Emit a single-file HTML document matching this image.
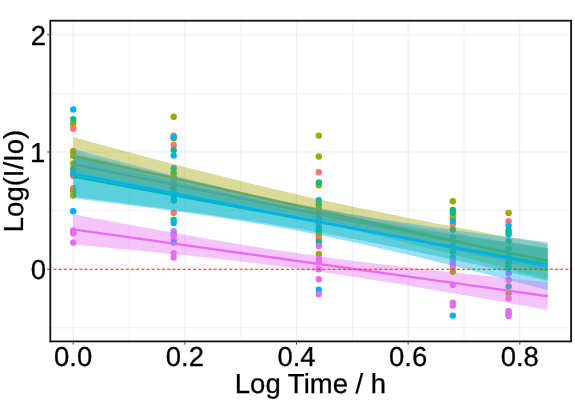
<!DOCTYPE html>
<html><head><meta charset="utf-8"><title>Chart</title>
<style>html,body{margin:0;padding:0;background:#fff;}svg{display:block;}text{text-rendering:geometricPrecision;}</style></head>
<body>
<svg width="575" height="402" viewBox="0 0 575 402">
<rect width="575" height="402" fill="#fff"/>
<g><line x1="73.20" y1="20.7" x2="73.20" y2="341.4" stroke="#EBEBEB" stroke-width="0.9"/><line x1="129.03" y1="20.7" x2="129.03" y2="341.4" stroke="#EBEBEB" stroke-width="0.7"/><line x1="184.85" y1="20.7" x2="184.85" y2="341.4" stroke="#EBEBEB" stroke-width="0.9"/><line x1="240.68" y1="20.7" x2="240.68" y2="341.4" stroke="#EBEBEB" stroke-width="0.7"/><line x1="296.50" y1="20.7" x2="296.50" y2="341.4" stroke="#EBEBEB" stroke-width="0.9"/><line x1="352.32" y1="20.7" x2="352.32" y2="341.4" stroke="#EBEBEB" stroke-width="0.7"/><line x1="408.15" y1="20.7" x2="408.15" y2="341.4" stroke="#EBEBEB" stroke-width="0.9"/><line x1="463.97" y1="20.7" x2="463.97" y2="341.4" stroke="#EBEBEB" stroke-width="0.7"/><line x1="519.80" y1="20.7" x2="519.80" y2="341.4" stroke="#EBEBEB" stroke-width="0.9"/><line x1="50.3" y1="327.80" x2="571.1" y2="327.80" stroke="#EBEBEB" stroke-width="0.7"/><line x1="50.3" y1="269.20" x2="571.1" y2="269.20" stroke="#EBEBEB" stroke-width="0.9"/><line x1="50.3" y1="210.60" x2="571.1" y2="210.60" stroke="#EBEBEB" stroke-width="0.7"/><line x1="50.3" y1="152.00" x2="571.1" y2="152.00" stroke="#EBEBEB" stroke-width="0.9"/><line x1="50.3" y1="93.40" x2="571.1" y2="93.40" stroke="#EBEBEB" stroke-width="0.7"/><line x1="50.3" y1="34.80" x2="571.1" y2="34.80" stroke="#EBEBEB" stroke-width="0.9"/></g>
<clipPath id="c"><rect x="50.3" y="20.7" width="520.8000000000001" height="320.7"/></clipPath>
<g clip-path="url(#c)">
<circle cx="73.2" cy="123.5" r="3.2" fill="#A3A500"/>
<circle cx="73.2" cy="119.1" r="3.2" fill="#00BF7D"/>
<circle cx="73.2" cy="128.7" r="3.2" fill="#F8766D"/>
<circle cx="73.2" cy="109.4" r="3.2" fill="#00B0F6"/>
<circle cx="73.2" cy="151.0" r="3.2" fill="#F8766D"/>
<circle cx="73.2" cy="152.1" r="3.2" fill="#A3A500"/>
<circle cx="73.2" cy="156.1" r="3.2" fill="#A3A500"/>
<circle cx="73.2" cy="163.4" r="3.2" fill="#A3A500"/>
<circle cx="73.2" cy="169.0" r="3.2" fill="#00BF7D"/>
<circle cx="73.2" cy="175.8" r="3.2" fill="#F8766D"/>
<circle cx="73.2" cy="173.4" r="3.2" fill="#00B0F6"/>
<circle cx="73.2" cy="188.3" r="3.2" fill="#F8766D"/>
<circle cx="73.2" cy="191.3" r="3.2" fill="#A3A500"/>
<circle cx="73.2" cy="195.6" r="3.2" fill="#A3A500"/>
<circle cx="73.2" cy="211.3" r="3.2" fill="#00B0F6"/>
<circle cx="73.2" cy="232.0" r="3.2" fill="#00B0F6"/>
<circle cx="73.2" cy="230.5" r="3.2" fill="#E76BF3"/>
<circle cx="73.2" cy="233.2" r="3.2" fill="#E76BF3"/>
<circle cx="73.2" cy="242.6" r="3.2" fill="#E76BF3"/>
<circle cx="173.7" cy="116.7" r="3.2" fill="#A3A500"/>
<circle cx="173.7" cy="135.7" r="3.2" fill="#F8766D"/>
<circle cx="173.7" cy="138.2" r="3.2" fill="#A3A500"/>
<circle cx="173.7" cy="137.0" r="3.2" fill="#00B0F6"/>
<circle cx="173.7" cy="145.0" r="3.2" fill="#F8766D"/>
<circle cx="173.7" cy="150.1" r="3.2" fill="#00BF7D"/>
<circle cx="173.7" cy="155.6" r="3.2" fill="#00B0F6"/>
<circle cx="173.7" cy="168.3" r="3.2" fill="#00B0F6"/>
<circle cx="173.7" cy="172.9" r="3.2" fill="#00BF7D"/>
<circle cx="173.7" cy="176.6" r="3.2" fill="#A3A500"/>
<circle cx="173.7" cy="180.7" r="3.2" fill="#F8766D"/>
<circle cx="173.7" cy="184.8" r="3.2" fill="#00BF7D"/>
<circle cx="173.7" cy="188.3" r="3.2" fill="#00B0F6"/>
<circle cx="173.7" cy="192.4" r="3.2" fill="#A3A500"/>
<circle cx="173.7" cy="196.5" r="3.2" fill="#00BF7D"/>
<circle cx="173.7" cy="200.6" r="3.2" fill="#00B0F6"/>
<circle cx="173.7" cy="212.7" r="3.2" fill="#F8766D"/>
<circle cx="173.7" cy="220.0" r="3.2" fill="#00BF7D"/>
<circle cx="173.7" cy="222.9" r="3.2" fill="#00B0F6"/>
<circle cx="173.7" cy="231.3" r="3.2" fill="#E76BF3"/>
<circle cx="173.7" cy="234.6" r="3.2" fill="#00B0F6"/>
<circle cx="173.7" cy="235.4" r="3.2" fill="#E76BF3"/>
<circle cx="173.7" cy="239.9" r="3.2" fill="#E76BF3"/>
<circle cx="173.7" cy="242.5" r="3.2" fill="#00B0F6"/>
<circle cx="173.7" cy="253.1" r="3.2" fill="#E76BF3"/>
<circle cx="173.7" cy="257.5" r="3.2" fill="#E76BF3"/>
<circle cx="318.8" cy="135.6" r="3.2" fill="#A3A500"/>
<circle cx="318.8" cy="156.5" r="3.2" fill="#A3A500"/>
<circle cx="318.8" cy="172.2" r="3.2" fill="#F8766D"/>
<circle cx="318.8" cy="185.3" r="3.2" fill="#A3A500"/>
<circle cx="318.8" cy="182.5" r="3.2" fill="#00BF7D"/>
<circle cx="318.8" cy="200.3" r="3.2" fill="#00B0F6"/>
<circle cx="318.8" cy="204.7" r="3.2" fill="#00BF7D"/>
<circle cx="318.8" cy="209.4" r="3.2" fill="#A3A500"/>
<circle cx="318.8" cy="214.1" r="3.2" fill="#00B0F6"/>
<circle cx="318.8" cy="218.8" r="3.2" fill="#00BF7D"/>
<circle cx="318.8" cy="223.5" r="3.2" fill="#F8766D"/>
<circle cx="318.8" cy="227.6" r="3.2" fill="#00B0F6"/>
<circle cx="318.8" cy="231.1" r="3.2" fill="#00BF7D"/>
<circle cx="318.8" cy="235.2" r="3.2" fill="#A3A500"/>
<circle cx="318.8" cy="238.4" r="3.2" fill="#F8766D"/>
<circle cx="318.8" cy="242.0" r="3.2" fill="#00BF7D"/>
<circle cx="318.8" cy="246.0" r="3.2" fill="#E76BF3"/>
<circle cx="318.8" cy="254.0" r="3.2" fill="#A3A500"/>
<circle cx="318.8" cy="258.7" r="3.2" fill="#E76BF3"/>
<circle cx="318.8" cy="262.2" r="3.2" fill="#E76BF3"/>
<circle cx="318.8" cy="269.2" r="3.2" fill="#E76BF3"/>
<circle cx="318.8" cy="279.2" r="3.2" fill="#E76BF3"/>
<circle cx="318.8" cy="289.8" r="3.2" fill="#00B0F6"/>
<circle cx="318.8" cy="294.3" r="3.2" fill="#E76BF3"/>
<circle cx="452.8" cy="201.2" r="3.2" fill="#A3A500"/>
<circle cx="452.8" cy="217.4" r="3.2" fill="#A3A500"/>
<circle cx="452.8" cy="209.9" r="3.2" fill="#00BF7D"/>
<circle cx="452.8" cy="212.9" r="3.2" fill="#00BF7D"/>
<circle cx="452.8" cy="224.3" r="3.2" fill="#F8766D"/>
<circle cx="452.8" cy="221.1" r="3.2" fill="#00B0F6"/>
<circle cx="452.8" cy="229.8" r="3.2" fill="#00BF7D"/>
<circle cx="452.8" cy="237.3" r="3.2" fill="#00BF7D"/>
<circle cx="452.8" cy="244.6" r="3.2" fill="#00B0F6"/>
<circle cx="452.8" cy="251.6" r="3.2" fill="#00BF7D"/>
<circle cx="452.8" cy="257.5" r="3.2" fill="#00B0F6"/>
<circle cx="452.8" cy="260.1" r="3.2" fill="#E76BF3"/>
<circle cx="452.8" cy="263.3" r="3.2" fill="#E76BF3"/>
<circle cx="452.8" cy="266.9" r="3.2" fill="#E76BF3"/>
<circle cx="452.8" cy="271.8" r="3.2" fill="#A3A500"/>
<circle cx="452.8" cy="284.7" r="3.2" fill="#E76BF3"/>
<circle cx="452.8" cy="302.6" r="3.2" fill="#E76BF3"/>
<circle cx="452.8" cy="305.5" r="3.2" fill="#E76BF3"/>
<circle cx="452.8" cy="315.6" r="3.2" fill="#00B0F6"/>
<circle cx="508.6" cy="212.9" r="3.2" fill="#A3A500"/>
<circle cx="508.6" cy="221.1" r="3.2" fill="#F8766D"/>
<circle cx="508.6" cy="232.9" r="3.2" fill="#A3A500"/>
<circle cx="508.6" cy="234.6" r="3.2" fill="#00B0F6"/>
<circle cx="508.6" cy="230.3" r="3.2" fill="#00BF7D"/>
<circle cx="508.6" cy="225.6" r="3.2" fill="#00B0F6"/>
<circle cx="508.6" cy="241.1" r="3.2" fill="#00BF7D"/>
<circle cx="508.6" cy="248.5" r="3.2" fill="#00BF7D"/>
<circle cx="508.6" cy="256.3" r="3.2" fill="#00B0F6"/>
<circle cx="508.6" cy="262.2" r="3.2" fill="#00BF7D"/>
<circle cx="508.6" cy="266.9" r="3.2" fill="#00B0F6"/>
<circle cx="508.6" cy="273.2" r="3.2" fill="#E76BF3"/>
<circle cx="508.6" cy="280.1" r="3.2" fill="#E76BF3"/>
<circle cx="508.6" cy="286.5" r="3.2" fill="#00BF7D"/>
<circle cx="508.6" cy="293.2" r="3.2" fill="#A3A500"/>
<circle cx="508.6" cy="298.4" r="3.2" fill="#E76BF3"/>
<circle cx="508.6" cy="313.4" r="3.2" fill="#00B0F6"/>
<circle cx="508.6" cy="310.9" r="3.2" fill="#E76BF3"/>
<circle cx="508.6" cy="316.0" r="3.2" fill="#E76BF3"/>
<polygon points="73.2,152.6 87.2,155.9 101.1,159.3 115.1,162.6 129.0,165.9 143.0,169.2 156.9,172.5 170.9,175.8 184.8,179.0 198.8,182.2 212.8,185.4 226.7,188.6 240.7,191.7 254.6,194.8 268.6,197.8 282.5,200.7 296.5,203.7 310.5,206.5 324.4,209.3 338.4,212.0 352.3,214.7 366.3,217.3 380.2,219.9 394.2,222.4 408.1,224.9 422.1,227.4 436.1,229.8 450.0,232.2 464.0,234.6 477.9,237.0 491.9,239.4 505.8,241.7 519.8,244.0 533.8,246.4 547.7,248.7 547.7,272.1 533.8,268.8 519.8,265.5 505.8,262.2 491.9,258.9 477.9,255.6 464.0,252.3 450.0,249.0 436.1,245.8 422.1,242.6 408.1,239.4 394.2,236.2 380.2,233.1 366.3,230.0 352.3,227.0 338.4,224.0 324.4,221.1 310.5,218.2 296.5,215.4 282.5,212.7 268.6,210.0 254.6,207.3 240.7,204.8 226.7,202.2 212.8,199.7 198.8,197.3 184.8,194.8 170.9,192.4 156.9,190.0 143.0,187.7 129.0,185.3 115.1,183.0 101.1,180.6 87.2,178.3 73.2,176.0" fill="#F8766D" fill-opacity="0.4"/>
<line x1="73.2" y1="164.3" x2="547.7" y2="260.4" stroke="#F8766D" stroke-width="2.4"/>
<polygon points="73.2,137.1 87.2,140.9 101.1,144.7 115.1,148.5 129.0,152.2 143.0,156.0 156.9,159.7 170.9,163.3 184.8,167.0 198.8,170.6 212.8,174.1 226.7,177.6 240.7,181.1 254.6,184.5 268.6,187.8 282.5,191.1 296.5,194.3 310.5,197.4 324.4,200.5 338.4,203.5 352.3,206.5 366.3,209.4 380.2,212.3 394.2,215.1 408.1,217.9 422.1,220.6 436.1,223.4 450.0,226.0 464.0,228.7 477.9,231.3 491.9,233.9 505.8,236.5 519.8,239.1 533.8,241.6 547.7,244.1 547.7,279.3 533.8,275.6 519.8,271.9 505.8,268.2 491.9,264.6 477.9,261.0 464.0,257.4 450.0,253.8 436.1,250.2 422.1,246.7 408.1,243.3 394.2,239.8 380.2,236.4 366.3,233.1 352.3,229.8 338.4,226.5 324.4,223.3 310.5,220.2 296.5,217.1 282.5,214.0 268.6,211.1 254.6,208.2 240.7,205.4 226.7,202.6 212.8,199.9 198.8,197.2 184.8,194.6 170.9,192.0 156.9,189.4 143.0,186.9 129.0,184.4 115.1,181.9 101.1,179.5 87.2,177.0 73.2,174.6" fill="#A3A500" fill-opacity="0.4"/>
<line x1="73.2" y1="155.9" x2="547.7" y2="261.7" stroke="#A3A500" stroke-width="2.4"/>
<polygon points="73.2,156.5 87.2,159.9 101.1,163.3 115.1,166.6 129.0,170.0 143.0,173.3 156.9,176.6 170.9,179.9 184.8,183.2 198.8,186.4 212.8,189.6 226.7,192.7 240.7,195.8 254.6,198.8 268.6,201.8 282.5,204.7 296.5,207.5 310.5,210.2 324.4,212.8 338.4,215.4 352.3,217.9 366.3,220.3 380.2,222.7 394.2,225.0 408.1,227.3 422.1,229.5 436.1,231.7 450.0,233.8 464.0,236.0 477.9,238.0 491.9,240.1 505.8,242.1 519.8,244.1 533.8,246.1 547.7,248.1 547.7,280.9 533.8,277.7 519.8,274.5 505.8,271.4 491.9,268.2 477.9,265.1 464.0,262.0 450.0,259.0 436.1,256.0 422.1,253.0 408.1,250.0 394.2,247.1 380.2,244.3 366.3,241.5 352.3,238.8 338.4,236.1 324.4,233.5 310.5,230.9 296.5,228.5 282.5,226.1 268.6,223.8 254.6,221.6 240.7,219.5 226.7,217.4 212.8,215.3 198.8,213.3 184.8,211.4 170.9,209.5 156.9,207.6 143.0,205.8 129.0,203.9 115.1,202.1 101.1,200.3 87.2,198.5 73.2,196.8" fill="#00BF7D" fill-opacity="0.4"/>
<line x1="73.2" y1="176.6" x2="547.7" y2="264.5" stroke="#00BF7D" stroke-width="2.4"/>
<polygon points="73.2,149.1 87.2,152.8 101.1,156.5 115.1,160.2 129.0,163.9 143.0,167.6 156.9,171.2 170.9,174.7 184.8,178.2 198.8,181.7 212.8,185.1 226.7,188.5 240.7,191.7 254.6,194.9 268.6,198.0 282.5,200.9 296.5,203.8 310.5,206.6 324.4,209.2 338.4,211.8 352.3,214.2 366.3,216.6 380.2,218.9 394.2,221.1 408.1,223.2 422.1,225.3 436.1,227.3 450.0,229.3 464.0,231.3 477.9,233.2 491.9,235.0 505.8,236.9 519.8,238.7 533.8,240.5 547.7,242.2 547.7,290.1 533.8,286.4 519.8,282.7 505.8,279.1 491.9,275.5 477.9,272.0 464.0,268.4 450.0,264.9 436.1,261.5 422.1,258.0 408.1,254.7 394.2,251.4 380.2,248.2 366.3,245.0 352.3,241.9 338.4,239.0 324.4,236.1 310.5,233.3 296.5,230.6 282.5,228.0 268.6,225.6 254.6,223.2 240.7,220.9 226.7,218.7 212.8,216.6 198.8,214.6 184.8,212.6 170.9,210.7 156.9,208.8 143.0,207.0 129.0,205.2 115.1,203.4 101.1,201.7 87.2,200.0 73.2,198.3" fill="#00B0F6" fill-opacity="0.4"/>
<line x1="73.2" y1="173.7" x2="547.7" y2="266.2" stroke="#00B0F6" stroke-width="2.4"/>
<polygon points="73.2,214.3 87.2,216.9 101.1,219.5 115.1,222.1 129.0,224.7 143.0,227.3 156.9,229.8 170.9,232.3 184.8,234.8 198.8,237.3 212.8,239.7 226.7,242.1 240.7,244.4 254.6,246.7 268.6,248.9 282.5,251.1 296.5,253.1 310.5,255.1 324.4,257.0 338.4,258.9 352.3,260.7 366.3,262.5 380.2,264.2 394.2,265.8 408.1,267.5 422.1,269.1 436.1,270.6 450.0,272.1 464.0,273.7 477.9,275.1 491.9,276.6 505.8,278.1 519.8,279.5 533.8,280.9 547.7,282.3 547.7,310.0 533.8,307.5 519.8,305.0 505.8,302.5 491.9,300.0 477.9,297.5 464.0,295.1 450.0,292.7 436.1,290.3 422.1,287.9 408.1,285.5 394.2,283.2 380.2,281.0 366.3,278.8 352.3,276.6 338.4,274.5 324.4,272.4 310.5,270.4 296.5,268.5 282.5,266.6 268.6,264.8 254.6,263.1 240.7,261.4 226.7,259.8 212.8,258.3 198.8,256.8 184.8,255.3 170.9,253.9 156.9,252.5 143.0,251.1 129.0,249.7 115.1,248.4 101.1,247.0 87.2,245.7 73.2,244.4" fill="#E76BF3" fill-opacity="0.4"/>
<line x1="73.2" y1="229.4" x2="547.7" y2="296.2" stroke="#E76BF3" stroke-width="2.4"/>
<line x1="50.3" y1="269.2" x2="571.1" y2="269.2" stroke="#FF1A1A" stroke-width="1.15" stroke-dasharray="2.8 2.37" stroke-dashoffset="1.9"/>
</g>
<rect x="50.3" y="20.7" width="520.8000000000001" height="320.7" fill="none" stroke="#111" stroke-width="1.8"/>
<line x1="73.20" y1="342.29999999999995" x2="73.20" y2="344.59999999999997" stroke="#333" stroke-width="0.9"/>
<line x1="184.85" y1="342.29999999999995" x2="184.85" y2="344.59999999999997" stroke="#333" stroke-width="0.9"/>
<line x1="296.50" y1="342.29999999999995" x2="296.50" y2="344.59999999999997" stroke="#333" stroke-width="0.9"/>
<line x1="408.15" y1="342.29999999999995" x2="408.15" y2="344.59999999999997" stroke="#333" stroke-width="0.9"/>
<line x1="519.80" y1="342.29999999999995" x2="519.80" y2="344.59999999999997" stroke="#333" stroke-width="0.9"/>
<line x1="47.099999999999994" y1="269.20" x2="49.4" y2="269.20" stroke="#333" stroke-width="0.9"/>
<line x1="47.099999999999994" y1="152.00" x2="49.4" y2="152.00" stroke="#333" stroke-width="0.9"/>
<line x1="47.099999999999994" y1="34.80" x2="49.4" y2="34.80" stroke="#333" stroke-width="0.9"/>
<g font-family="Liberation Sans, sans-serif" font-size="27.5" fill="#000" stroke="#000" stroke-width="0.3" style="filter:grayscale(1)">
<text x="46" y="279.0" text-anchor="end">0</text>
<text x="45.2" y="161.8" text-anchor="end">1</text>
<text x="46" y="44.6" text-anchor="end">2</text>
<text x="73.2" y="366.2" text-anchor="middle">0.0</text>
<text x="184.9" y="366.2" text-anchor="middle">0.2</text>
<text x="296.5" y="366.2" text-anchor="middle">0.4</text>
<text x="408.1" y="366.2" text-anchor="middle">0.6</text>
<text x="519.8" y="366.2" text-anchor="middle">0.8</text>
<text x="310.5" y="392.6" text-anchor="middle">Log Time / h</text>
<text transform="translate(22.8,181) rotate(-90)" text-anchor="middle">Log(I/Io)</text>
</g>
</svg>
</body></html>
